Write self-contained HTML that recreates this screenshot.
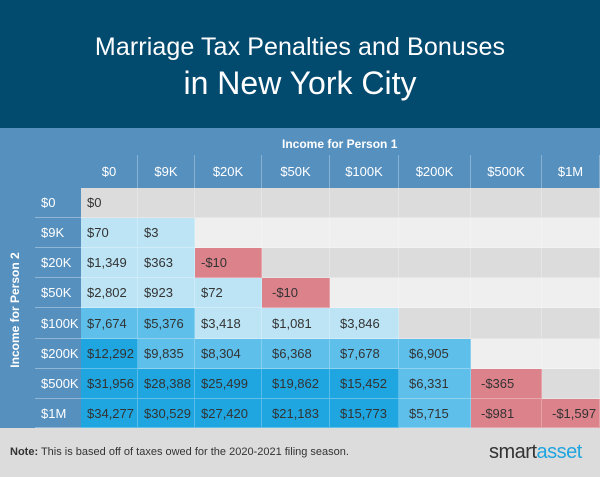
<!DOCTYPE html>
<html><head><meta charset="utf-8"><style>
*{margin:0;padding:0;box-sizing:border-box}
body{width:600px;height:477px;overflow:hidden;font-family:"Liberation Sans",sans-serif;background:#dcdcdc;position:relative}
.hdr{position:absolute;left:0;top:0;width:600px;height:128px;background:#034a6f;color:#fff;text-align:center}
.t1{position:absolute;top:33px;width:100%;font-size:25px;letter-spacing:0.1px}
.t2{position:absolute;top:65px;width:100%;font-size:32px}
.panel{position:absolute;left:0;top:128px;width:600px;height:300px;background:#5690bf}
.p1{position:absolute;top:137px;left:282px;color:#fff;font-weight:bold;font-size:12px}
.p2{position:absolute;left:15px;top:310px;color:#fff;font-weight:bold;font-size:12px;transform:translate(-50%,-50%) rotate(-90deg);white-space:nowrap}
.c{position:absolute;font-size:13px;color:#333;display:flex;align-items:center;border-right:1px solid rgba(255,255,255,0.25);border-bottom:1px solid rgba(255,255,255,0.3)}
.h{color:#fff;justify-content:center;border-bottom:none;border-right:1px solid rgba(255,255,255,0.3)}
.r{color:#fff;padding-left:6px;border-right:none;border-bottom:1px solid rgba(255,255,255,0.35)}
.g{background:#dcdcdc}.w{background:#efefef}.l{background:#bce4f5}.m{background:#5dbfea}.d{background:#1fa5df}.x{background:#dc828b}
.note{position:absolute;left:10px;top:446px;font-size:11px;color:#333}
.logo{position:absolute;left:489px;top:441px;font-size:20px;color:#333;letter-spacing:-0.5px}
.logo span{color:#1fa5df}
</style></head><body>
<div class="hdr"><div class="t1">Marriage Tax Penalties and Bonuses</div><div class="t2">in New York City</div></div>
<div class="panel"></div>
<div class="p1">Income for Person 1</div>
<div class="p2">Income for Person 2</div>
<div id="grid"></div>
<div class="note"><b>Note:</b> This is based off of taxes owed for the 2020-2021 filing season.</div>
<div class="logo">smart<span>asset</span></div>
<script>
var xs=[81,138,195,262,330,399,471,542,600];
var ys=[188,218,248,278,308,339,369,399,428];
var cols=["$0","$9K","$20K","$50K","$100K","$200K","$500K","$1M"];
var data=[
["$0"],["$70","$3"],["$1,349","$363","-$10"],["$2,802","$923","$72","-$10"],
["$7,674","$5,376","$3,418","$1,081","$3,846"],
["$12,292","$9,835","$8,304","$6,368","$7,678","$6,905"],
["$31,956","$28,388","$25,499","$19,862","$15,452","$6,331","-$365"],
["$34,277","$30,529","$27,420","$21,183","$15,773","$5,715","-$981","-$1,597"]];
var h="";
for(var j=0;j<8;j++){h+='<div class="c h" style="left:'+xs[j]+'px;top:155px;width:'+(xs[j+1]-xs[j])+'px;height:33px">'+cols[j]+'</div>';}
for(var i=0;i<8;i++){
h+='<div class="c r" style="left:35px;top:'+ys[i]+'px;width:46px;height:'+(ys[i+1]-ys[i])+'px">'+cols[i]+'</div>';
for(var j=0;j<8;j++){
var v=data[i][j],cl;
if(v===undefined)cl=(i%2==0?"g":"w");else{var n=parseInt(v.replace(/[$,]/g,''));cl=n<0?"x":(n==0?"g":(n>=10000?"d":(n>=5000?"m":"l")));}
var pad=j<3?6:10;
h+='<div class="c '+cl+'" style="left:'+xs[j]+'px;top:'+ys[i]+'px;width:'+(xs[j+1]-xs[j])+'px;height:'+(ys[i+1]-ys[i])+'px;padding-left:'+pad+'px">'+(v||"")+'</div>';}}
document.getElementById("grid").innerHTML=h;
</script>
</body></html>
